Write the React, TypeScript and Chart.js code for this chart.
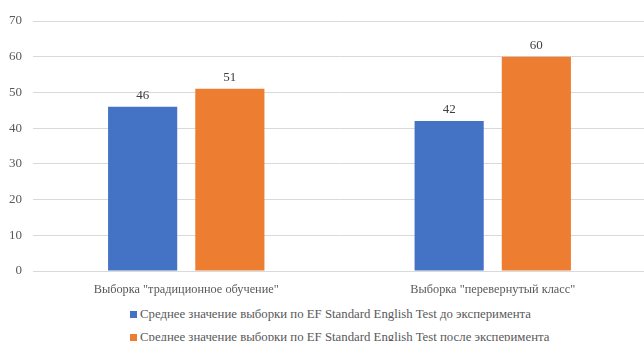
import React, { useEffect, useRef } from "react";
import { Chart, registerables } from "chart.js";

Chart.register(...registerables);

const categories = ['Выборка "традиционное обучение"', 'Выборка "перевернутый класс"'];
const seriesNames = [
  "Среднее значение выборки по EF Standard English Test до эксперимента",
  "Среднее значение выборки по EF Standard English Test после эксперимента",
];
const beforeValues = [46, 42];
const afterValues = [51, 60];
const yMin = 0;
const yMax = 70;
const yStep = 10;

const colors = ["#4472C4", "#ED7D31"];
const FONT = "Liberation Serif";

const dataLabelPlugin = {
  id: "dataLabels",
  afterDatasetsDraw(chart: any) {
    const ctx = chart.ctx;
    ctx.save();
    ctx.font = `13px "${FONT}"`;
    ctx.fillStyle = "#404040";
    ctx.textAlign = "center";
    ctx.textBaseline = "bottom";
    chart.data.datasets.forEach((ds: any, i: number) => {
      const meta = chart.getDatasetMeta(i);
      meta.data.forEach((bar: any, j: number) => {
        ctx.fillText(String(ds.data[j]), bar.x, bar.y - 5);
      });
    });
    ctx.restore();
  },
};

export default function App() {
  const ref = useRef<HTMLCanvasElement | null>(null);
  useEffect(() => {
    if (!ref.current) return;
    Chart.defaults.font.family = FONT;
    const chart = new Chart(ref.current, {
      type: "bar",
      data: {
        labels: categories,
        datasets: [
          { label: seriesNames[0], data: beforeValues, backgroundColor: colors[0] },
          { label: seriesNames[1], data: afterValues, backgroundColor: colors[1] },
        ],
      },
      options: {
        responsive: false,
        animation: false,
        layout: { padding: { top: 21, right: 0, bottom: 0, left: 0 } },
        datasets: {
          bar: { categoryPercentage: 0.569, barPercentage: 0.793 },
        } as any,
        plugins: {
          legend: { display: false },
          tooltip: { enabled: false },
        },
        scales: {
          x: {
            grid: { display: false, drawTicks: false },
            border: { display: true, color: "#d9d9d9" },
            ticks: { color: "#595959", font: { family: FONT, size: 12.3 }, padding: 11 },
            afterFit(scale: any) {
              scale.height = 29;
            },
          },
          y: {
            min: yMin,
            max: yMax,
            grid: { color: "#d9d9d9", drawTicks: false },
            border: { display: false },
            ticks: {
              stepSize: yStep,
              color: "#595959",
              font: { family: FONT, size: 13 },
              padding: 11,
            },
            afterFit(scale: any) {
              scale.width = 33;
            },
          },
        },
      },
      plugins: [dataLabelPlugin],
    });
    return () => chart.destroy();
  }, []);

  const legendRow = (i: number, top: number) => (
    <div
      key={i}
      style={{
        position: "absolute",
        left: 130,
        top,
        display: "flex",
        alignItems: "center",
        whiteSpace: "nowrap",
        fontFamily: FONT,
        fontSize: 12.8,
        color: "#595959",
        lineHeight: "15px",
      }}
    >
      <span
        style={{
          display: "inline-block",
          width: 7,
          height: 7,
          background: colors[i],
          marginRight: 3,
        }}
      />
      <span>{seriesNames[i]}</span>
    </div>
  );

  return (
    <div
      style={{
        position: "absolute",
        left: 0,
        top: 0,
        width: 644,
        height: 341,
        overflow: "hidden",
        background: "#fff",
      }}
    >
      <canvas ref={ref} width={646} height={300} style={{ display: "block" }} />
      {legendRow(0, 307)}
      {legendRow(1, 330)}
    </div>
  );
}
